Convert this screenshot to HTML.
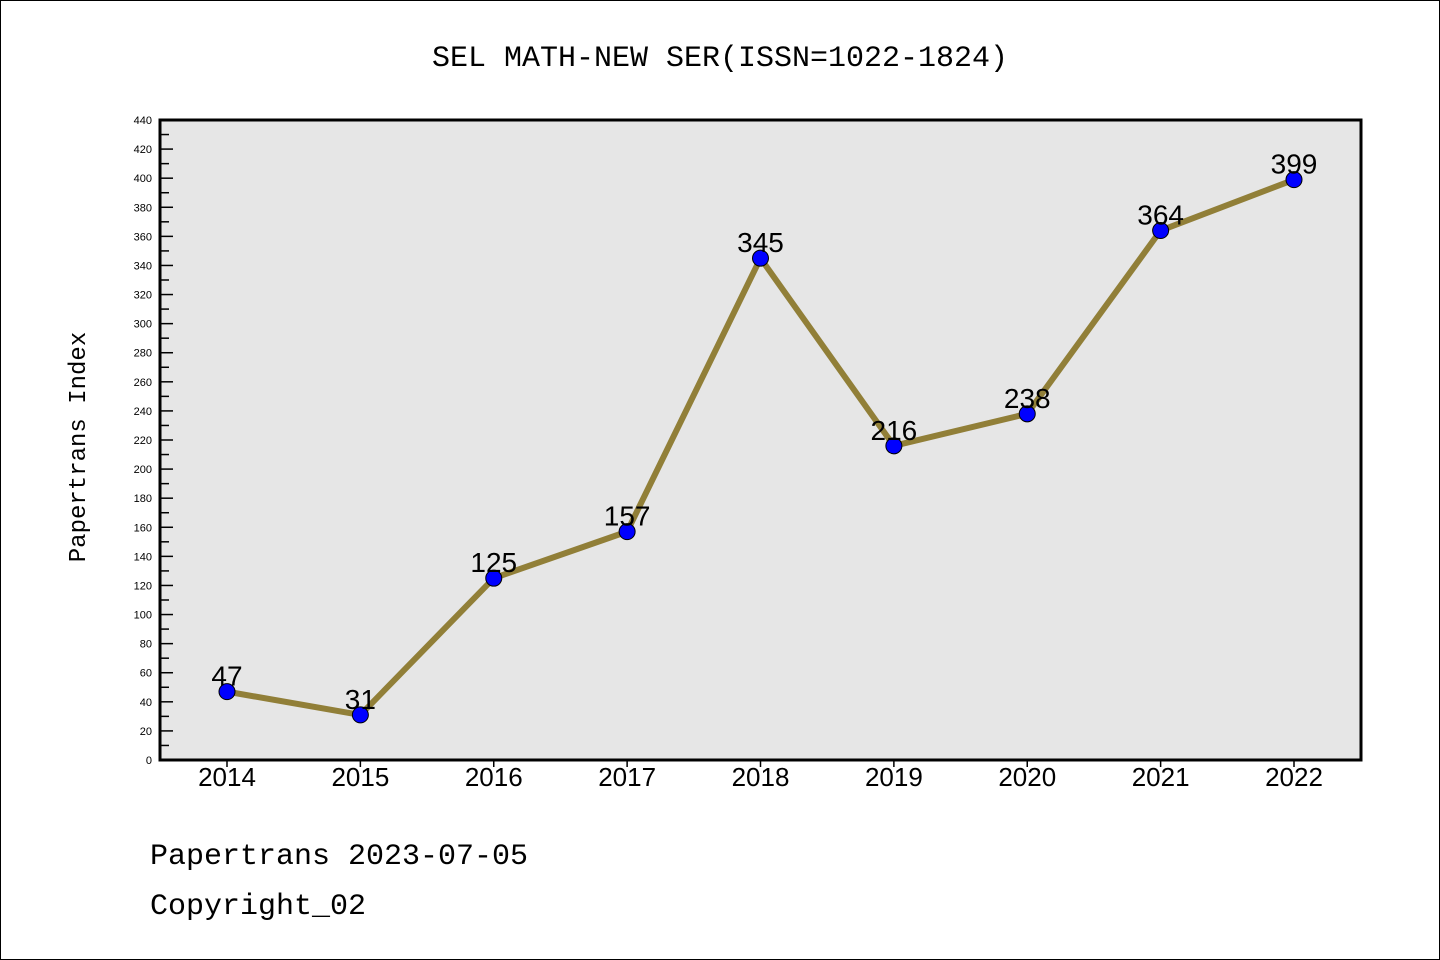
<!DOCTYPE html>
<html><head><meta charset="utf-8"><style>
body{margin:0;background:#fff}
svg{display:block}
</style></head><body>
<svg id="c" width="1440" height="960" xmlns="http://www.w3.org/2000/svg">
<rect x="0.5" y="0.5" width="1439" height="959" fill="#fff" stroke="#000" stroke-width="1"/>
<text x="720" y="66" text-anchor="middle" font-family="Liberation Mono, monospace" font-size="30">SEL MATH-NEW SER(ISSN=1022-1824)</text>
<rect x="160" y="120" width="1201" height="640" fill="#e6e6e6"/>
<g id="axes"></g>
<g id="marks"></g>
<rect x="160" y="120" width="1201" height="640" fill="none" stroke="#000" stroke-width="3"/>
<text transform="translate(85,447) rotate(-90)" text-anchor="middle" font-family="Liberation Mono, monospace" font-size="24">Papertrans Index</text>
<text x="150" y="864" font-family="Liberation Mono, monospace" font-size="30">Papertrans 2023-07-05</text>
<text x="150" y="914" font-family="Liberation Mono, monospace" font-size="30">Copyright_02</text>
</svg>
<script>
const years=["2014","2015","2016","2017","2018","2019","2020","2021","2022"];
const values=[47,31,125,157,345,216,238,364,399];
const yTicks=[0,20,40,60,80,100,120,140,160,180,200,220,240,260,280,300,320,340,360,380,400,420,440];
const NS="http://www.w3.org/2000/svg";
const yMax=440;
function ys(v){return 760-v*640/yMax;}
function xs(i){return 227+i*(1294-227)/(years.length-1);}
function mk(t,a,p){const e=document.createElementNS(NS,t);for(const k in a)e.setAttribute(k,a[k]);p.appendChild(e);return e;}
const ax=document.getElementById('axes'),mg=document.getElementById('marks');
yTicks.forEach(v=>{
  const y=ys(v);
  const t=mk('line',{x1:160,x2:173,y1:y,y2:y,stroke:'#000','stroke-width':1.5},ax);
  
  
  if(v<yMax){const m=mk('line',{x1:160,x2:169,y1:ys(v+10),y2:ys(v+10),stroke:'#000','stroke-width':1.5},ax);
  
  }
  const l=mk('text',{x:152,y:y+4,'text-anchor':'end','font-family':'Liberation Sans, sans-serif','font-size':11},ax);
  l.textContent=v;
  
  
});
years.forEach((yr,i)=>{
  const x=xs(i);
  const t=mk('line',{x1:x,x2:x,y1:760,y2:767,stroke:'#000','stroke-width':1.5},ax);
  
  
  const l=mk('text',{x:x,y:786,'text-anchor':'middle','font-family':'Liberation Sans, sans-serif','font-size':26},ax);
  l.textContent=yr;
  
  
});
const pts=values.map((v,i)=>xs(i)+','+ys(v)).join(' ');
const pl=mk('polyline',{points:pts,fill:'none',stroke:'#917f38','stroke-width':6,'stroke-linejoin':'round'},mg);


values.forEach((v,i)=>{
  const c=mk('circle',{cx:xs(i),cy:ys(v),r:8,fill:'#0000ff',stroke:'#000','stroke-width':1},mg);
  
  
  const l=mk('text',{x:xs(i),y:ys(v)-6,'text-anchor':'middle','font-family':'Liberation Sans, sans-serif','font-size':28},mg);
  l.textContent=v;
  
  
});
</script>
</body></html>
